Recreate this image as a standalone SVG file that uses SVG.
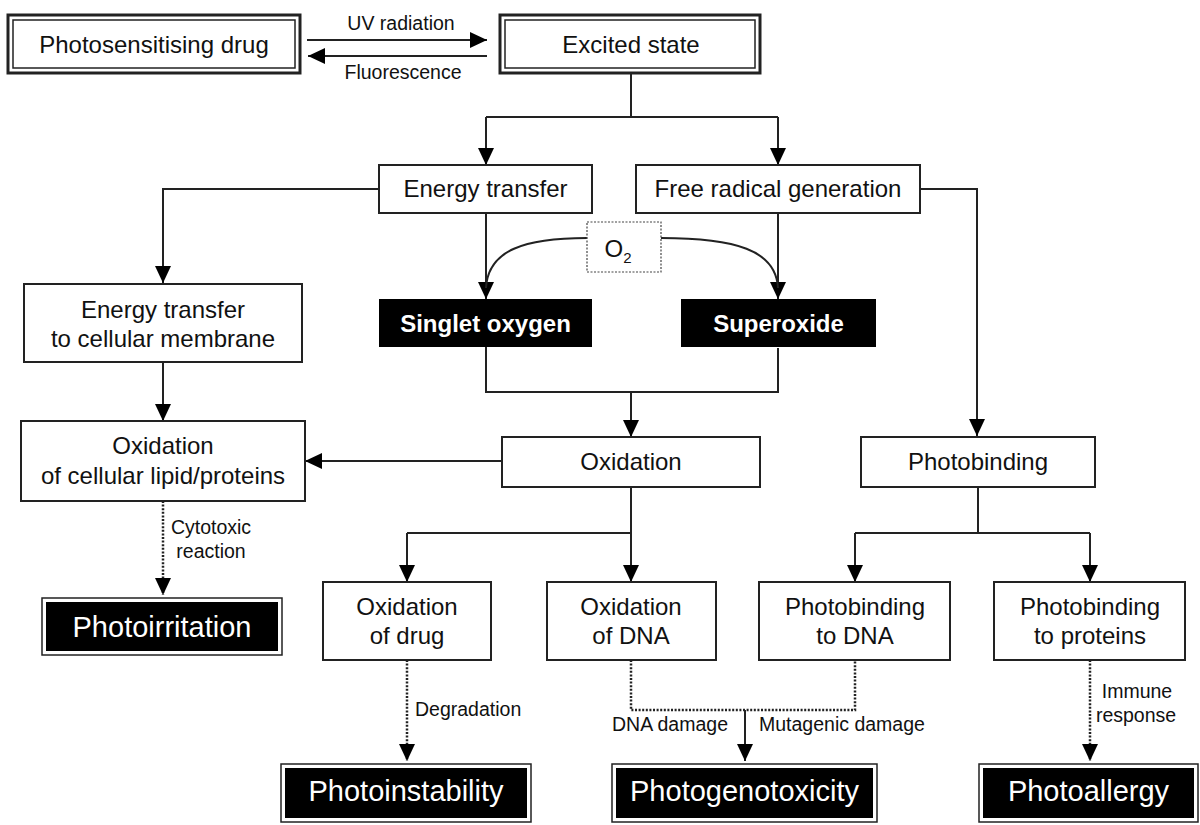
<svg xmlns="http://www.w3.org/2000/svg" width="1200" height="825" viewBox="0 0 1200 825">
<defs>
<marker id="ah" markerUnits="userSpaceOnUse" markerWidth="18" markerHeight="18" refX="17" refY="8" orient="auto"><path d="M0,0 L17,8 L0,16 z" fill="#000"/></marker>
<style>
text{font-family:"Liberation Sans",Arial,sans-serif;fill:#111;text-anchor:middle}
.t{font-size:24px}
.tb{font-size:24px;font-weight:bold;fill:#fff}
.r{font-size:29px;fill:#fff}
.l{font-size:19.5px}
.box{fill:#fff;stroke:#222;stroke-width:2}
.dbo{fill:#fff;stroke:#222;stroke-width:3}
.dbi{fill:none;stroke:#222;stroke-width:1.5}
.blk{fill:#000;stroke:none}
.ro{fill:#fff;stroke:#222;stroke-width:1.5}
.c{fill:none;stroke:#222;stroke-width:2}
.d{fill:none;stroke:#222;stroke-width:2.5;stroke-dasharray:2 1.6}
.o2{fill:#fff;stroke:#444;stroke-width:1.2;stroke-dasharray:2 1.5}
</style>
</defs>
<rect width="1200" height="825" fill="#fff"/>

<g id="connectors">
<line class="c" x1="307" y1="40" x2="487" y2="40" marker-end="url(#ah)"/>
<line class="c" x1="487" y1="56" x2="308" y2="56" marker-end="url(#ah)"/>
<path class="c" d="M631,73 V117"/>
<path class="c" d="M486,117 H778"/>
<line class="c" x1="486" y1="117" x2="486" y2="165" marker-end="url(#ah)"/>
<line class="c" x1="778" y1="117" x2="778" y2="165" marker-end="url(#ah)"/>
<path class="c" d="M379,189 H163 V283" marker-end="url(#ah)"/>
<line class="c" x1="486" y1="213" x2="486" y2="299" marker-end="url(#ah)"/>
<line class="c" x1="778" y1="213" x2="778" y2="299" marker-end="url(#ah)"/>
<path class="c" d="M587,238 C525,238 488,250 486,288"/>
<path class="c" d="M661,238 C735,238 776,250 778,288"/>
<path class="c" d="M920,189 H977 V436" marker-end="url(#ah)"/>
<path class="c" d="M486,347 V392 H778 V348"/>
<line class="c" x1="631" y1="392" x2="631" y2="437" marker-end="url(#ah)"/>
<line class="c" x1="163" y1="362" x2="163" y2="421" marker-end="url(#ah)"/>
<line class="c" x1="502" y1="461" x2="305" y2="461" marker-end="url(#ah)"/>
<path class="c" d="M631,487 V533 H407"/>
<line class="c" x1="407" y1="533" x2="407" y2="582" marker-end="url(#ah)"/>
<line class="c" x1="631" y1="533" x2="631" y2="582" marker-end="url(#ah)"/>
<path class="c" d="M978,487 V533 H855"/>
<path class="c" d="M978,533 H1090"/>
<line class="c" x1="855" y1="533" x2="855" y2="582" marker-end="url(#ah)"/>
<line class="c" x1="1090" y1="533" x2="1090" y2="582" marker-end="url(#ah)"/>
<line class="d" x1="163" y1="501" x2="163" y2="595" marker-end="url(#ah)"/>
<line class="d" x1="407" y1="660" x2="407" y2="761" marker-end="url(#ah)"/>
<path class="d" d="M631,660 V710 H855 V660"/>
<line class="c" x1="745" y1="710" x2="745" y2="761" marker-end="url(#ah)"/>
<line class="d" x1="1090" y1="660" x2="1090" y2="761" marker-end="url(#ah)"/>
<text class="l" x="401" y="30">UV radiation</text>
<text class="l" x="403" y="79">Fluorescence</text>
<text class="l" x="211" y="534">Cytotoxic</text>
<text class="l" x="211" y="558">reaction</text>
<text class="l" x="415" y="716" style="text-anchor:start">Degradation</text>
<text class="l" x="728" y="731" style="text-anchor:end">DNA damage</text>
<text class="l" x="759" y="731" style="text-anchor:start">Mutagenic damage</text>
<text class="l" x="1137" y="698">Immune</text>
<text class="l" x="1136" y="722">response</text>
</g>

<g id="photosensitising-drug">
<rect class="dbo" x="8" y="15" width="292" height="58"/>
<rect class="dbi" x="13" y="20" width="282" height="48"/>
<text class="t" x="154" y="53">Photosensitising drug</text>
</g>
<g id="excited-state">
<rect class="dbo" x="500" y="15" width="260" height="58"/>
<rect class="dbi" x="505" y="20" width="250" height="48"/>
<text class="t" x="631" y="53">Excited state</text>
</g>
<g id="energy-transfer">
<rect class="box" x="379" y="165" width="213" height="48"/>
<text class="t" x="485.5" y="197">Energy transfer</text>
</g>
<g id="free-radical-generation">
<rect class="box" x="636" y="165" width="284" height="48"/>
<text class="t" x="778" y="197">Free radical generation</text>
</g>
<g id="o2">
<rect class="o2" x="587" y="222" width="74" height="50"/>
<text class="t" x="618" y="257">O<tspan font-size="15" dy="6">2</tspan></text>
</g>
<g id="singlet-oxygen">
<rect class="blk" x="379" y="299" width="213" height="48"/>
<text class="tb" x="485.5" y="332">Singlet oxygen</text>
</g>
<g id="superoxide">
<rect class="blk" x="681" y="299" width="195" height="48"/>
<text class="tb" x="778.5" y="332">Superoxide</text>
</g>
<g id="energy-transfer-membrane">
<rect class="box" x="24" y="284" width="278" height="78"/>
<text class="t" x="163" y="318">Energy transfer</text>
<text class="t" x="163" y="347">to cellular membrane</text>
</g>
<g id="oxidation-cellular">
<rect class="box" x="21" y="421" width="284" height="80"/>
<text class="t" x="163" y="454">Oxidation</text>
<text class="t" x="163" y="484">of cellular lipid/proteins</text>
</g>
<g id="oxidation">
<rect class="box" x="502" y="437" width="258" height="50"/>
<text class="t" x="631" y="470">Oxidation</text>
</g>
<g id="photobinding">
<rect class="box" x="861" y="437" width="234" height="50"/>
<text class="t" x="978" y="470">Photobinding</text>
</g>
<g id="oxidation-drug">
<rect class="box" x="323" y="582" width="168" height="78"/>
<text class="t" x="407" y="615">Oxidation</text>
<text class="t" x="407" y="644">of drug</text>
</g>
<g id="oxidation-dna">
<rect class="box" x="547" y="582" width="169" height="78"/>
<text class="t" x="631" y="615">Oxidation</text>
<text class="t" x="631" y="644">of DNA</text>
</g>
<g id="photobinding-dna">
<rect class="box" x="759" y="582" width="191" height="78"/>
<text class="t" x="855" y="615">Photobinding</text>
<text class="t" x="855" y="644">to DNA</text>
</g>
<g id="photobinding-proteins">
<rect class="box" x="994" y="582" width="191" height="78"/>
<text class="t" x="1090" y="615">Photobinding</text>
<text class="t" x="1090" y="644">to proteins</text>
</g>
<g id="photoirritation">
<rect class="ro" x="42" y="598" width="240" height="57"/>
<rect class="blk" x="46" y="602" width="232" height="49"/>
<text class="r" x="162" y="637">Photoirritation</text>
</g>
<g id="photoinstability">
<rect class="ro" x="281" y="764" width="250" height="58"/>
<rect class="blk" x="285" y="768" width="242" height="50"/>
<text class="r" x="406" y="801">Photoinstability</text>
</g>
<g id="photogenotoxicity">
<rect class="ro" x="612" y="764" width="265" height="58"/>
<rect class="blk" x="616" y="768" width="257" height="50"/>
<text class="r" x="744.5" y="801">Photogenotoxicity</text>
</g>
<g id="photoallergy">
<rect class="ro" x="979" y="764" width="219" height="58"/>
<rect class="blk" x="983" y="768" width="211" height="50"/>
<text class="r" x="1088.5" y="801">Photoallergy</text>
</g>
</svg>
